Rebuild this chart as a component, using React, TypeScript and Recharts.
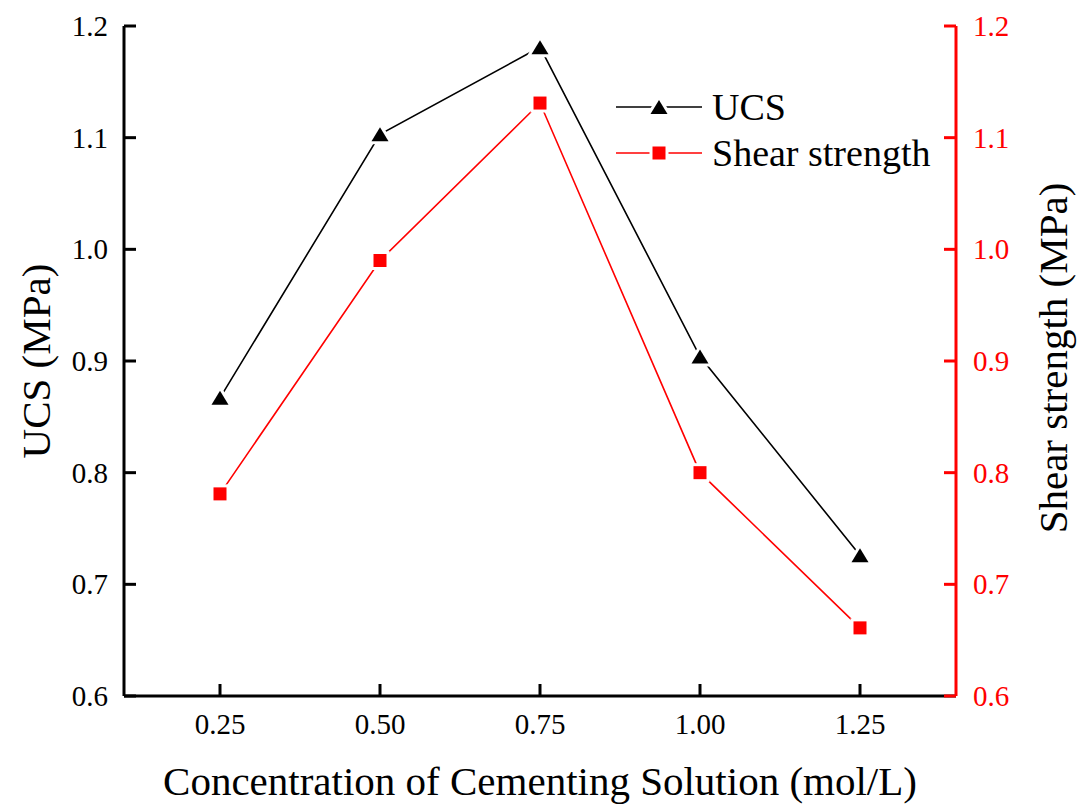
import React from "react";
import { LineChart, Line, XAxis, YAxis, Legend } from "recharts";

// cementing solution concentration (mol/L)
const concentration = [0.25, 0.5, 0.75, 1.0, 1.25];
// unconfined compressive strength (MPa)
const ucs = [0.867, 1.103, 1.181, 0.904, 0.726];
// shear strength (MPa)
const shearStrength = [0.781, 0.99, 1.131, 0.8, 0.661];

const xTicks = [0.25, 0.5, 0.75, 1.0, 1.25];
const yTicks = [0.6, 0.7, 0.8, 0.9, 1.0, 1.1, 1.2];
const seriesNames = ["UCS", "Shear strength"];

const data = concentration.map((c, i) => ({
  c,
  ucs: ucs[i],
  shear: shearStrength[i],
}));

const FONT = '"Liberation Serif", "Times New Roman", serif';
const RED = "#ff0000";
const TICK_LEN = 12;
const TICK_FONT = 29;

// markers get a white halo so the connecting line stops short of them
const halo = { stroke: "#fff", strokeWidth: 6, paintOrder: "stroke" as const };

function Triangle({ cx, cy, fill }: { cx: number; cy: number; fill: string }) {
  return (
    <polygon
      points={`${cx},${cy - 7} ${cx - 8.5},${cy + 7} ${cx + 8.5},${cy + 7}`}
      fill={fill}
      {...halo}
    />
  );
}

function Square({ cx, cy, fill }: { cx: number; cy: number; fill: string }) {
  return <rect x={cx - 6.5} y={cy - 6.5} width={13} height={13} fill={fill} {...halo} />;
}

function LeftTick({ x, y, payload }: any) {
  return (
    <g>
      <line x1={x} x2={x + TICK_LEN} y1={y} y2={y} stroke="#000" strokeWidth={3} />
      <text x={x - 16} y={y} dy="0.35em" textAnchor="end" fontSize={TICK_FONT} fontFamily={FONT} fill="#000">
        {Number(payload.value).toFixed(1)}
      </text>
    </g>
  );
}

function RightTick({ x, y, payload }: any) {
  return (
    <g>
      <line x1={x - TICK_LEN} x2={x} y1={y} y2={y} stroke={RED} strokeWidth={3} />
      <text x={x + 17} y={y} dy="0.35em" textAnchor="start" fontSize={TICK_FONT} fontFamily={FONT} fill={RED}>
        {Number(payload.value).toFixed(1)}
      </text>
    </g>
  );
}

function BottomTick({ x, y, payload }: any) {
  return (
    <g>
      <line x1={x} x2={x} y1={y} y2={y - TICK_LEN} stroke="#000" strokeWidth={3} />
      <text x={x} y={y + 38} textAnchor="middle" fontSize={TICK_FONT} fontFamily={FONT} fill="#000">
        {Number(payload.value).toFixed(2)}
      </text>
    </g>
  );
}

// axis title, placed by its centre point and turned by `turn` degrees
function AxisTitle({ cxTitle, cyTitle, turn, title }: any) {
  return (
    <g transform={`translate(${cxTitle},${cyTitle}) rotate(${turn})`}>
      <text x={0} y={0} textAnchor="middle" dy="0.35em" fontSize={41} fontFamily={FONT} fill="#000">
        {title}
      </text>
    </g>
  );
}

function LegendBox() {
  const rows = [
    { name: seriesNames[0], color: "#000", Marker: Triangle },
    { name: seriesNames[1], color: RED, Marker: Square },
  ];
  return (
    <svg width={340} height={100} style={{ overflow: "visible" }}>
      {rows.map(({ name, color, Marker }, i) => {
        const cy = 27 + i * 46;
        return (
          <g key={name}>
            <line x1={16} x2={102} y1={cy} y2={cy} stroke={color} strokeWidth={1.5} />
            <Marker cx={59} cy={cy} fill={color} />
            <text x={112} y={cy + 13} fontSize={38} fontFamily={FONT} fill="#000">
              {name}
            </text>
          </g>
        );
      })}
    </svg>
  );
}

export default function App() {
  return (
    <div style={{ position: "absolute", left: 0, top: 0, background: "#fff" }}>
      <LineChart
        width={1078}
        height={804}
        data={data}
        margin={{ top: 26, right: 0, bottom: 0, left: 0 }}
      >
        <XAxis
          xAxisId="top"
          orientation="top"
          dataKey="c"
          type="number"
          domain={[0.1, 1.4]}
          height={0}
          tick={false}
          tickLine={false}
          axisLine={{ stroke: "#000", strokeWidth: 3 }}
        />
        <XAxis
          dataKey="c"
          type="number"
          domain={[0.1, 1.4]}
          ticks={xTicks}
          interval={0}
          height={108}
          tickSize={0}
          tickMargin={0}
          tickLine={false}
          tick={<BottomTick />}
          axisLine={{ stroke: "#000", strokeWidth: 3 }}
          label={
            <AxisTitle cxTitle={540} cyTitle={781} turn={0} title="Concentration of Cementing Solution (mol/L)" />
          }
        />
        <YAxis
          yAxisId="ucs"
          domain={[0.6, 1.2]}
          ticks={yTicks}
          interval={0}
          width={124}
          tickSize={0}
          tickMargin={0}
          tickLine={false}
          tick={<LeftTick />}
          axisLine={{ stroke: "#000", strokeWidth: 3 }}
          label={<AxisTitle cxTitle={36} cyTitle={361} turn={-90} title="UCS (MPa)" />}
        />
        <YAxis
          yAxisId="shear"
          orientation="right"
          domain={[0.6, 1.2]}
          ticks={yTicks}
          interval={0}
          width={122}
          tickSize={0}
          tickMargin={0}
          tickLine={false}
          tick={<RightTick />}
          axisLine={{ stroke: RED, strokeWidth: 3 }}
          label={<AxisTitle cxTitle={1053} cyTitle={358} turn={-90} title="Shear strength (MPa)" />}
        />
        <Legend
          layout="vertical"
          align="center"
          verticalAlign="middle"
          content={() => <LegendBox />}
          wrapperStyle={{ position: "absolute", left: 600, top: 80, width: 340, height: 100 }}
        />
        <Line
          yAxisId="ucs"
          dataKey="ucs"
          name={seriesNames[0]}
          stroke="#000"
          strokeWidth={1.6}
          isAnimationActive={false}
          dot={(p: any) => <Triangle key={`u${p.index}`} cx={p.cx} cy={p.cy} fill="#000" />}
          activeDot={false}
        />
        <Line
          yAxisId="shear"
          dataKey="shear"
          name={seriesNames[1]}
          stroke={RED}
          strokeWidth={1.6}
          isAnimationActive={false}
          dot={(p: any) => <Square key={`s${p.index}`} cx={p.cx} cy={p.cy} fill={RED} />}
          activeDot={false}
        />
      </LineChart>
    </div>
  );
}
